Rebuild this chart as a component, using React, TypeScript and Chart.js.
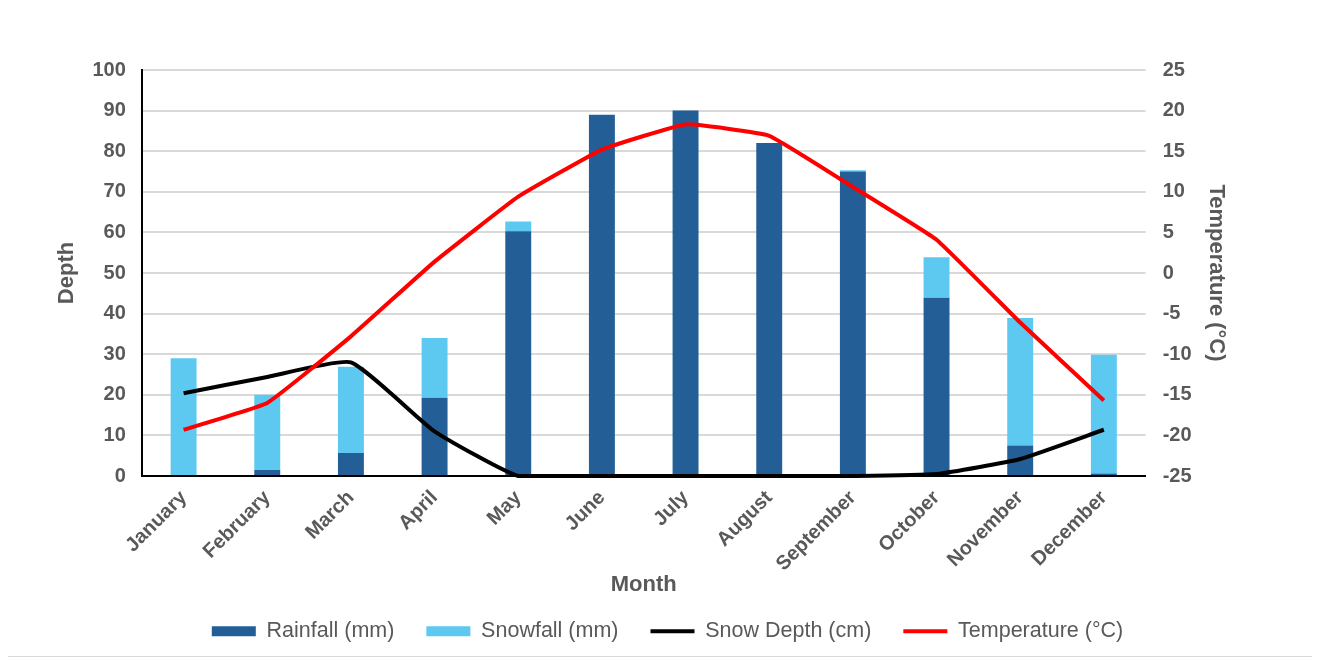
import React, { useEffect, useRef } from "react";
import { Chart, registerables } from "chart.js";

Chart.register(...registerables);

const months = [
  "January", "February", "March", "April", "May", "June",
  "July", "August", "September", "October", "November", "December",
];
const rainfall = [0, 1.5, 5.7, 19.3, 60.3, 89, 90, 82, 75, 43.9, 7.5, 0.6];
const snowfall = [29, 18.5, 21.2, 14.7, 2.4, 0, 0, 0, 0.3, 10, 31.4, 29.3];
const snowDepth = [20.4, 24.4, 28, 11, 0, 0, 0, 0, 0, 0.5, 4.2, 11.4];
const temperature = [-19.3, -16, -7.8, 1.4, 9.4, 15.2, 18.3, 16.9, 10.6, 4.1, -6.1, -15.7];

const depthTicks = { min: 0, max: 100, step: 10 };
const tempTicks = { min: -25, max: 25, step: 5 };

const FONT = "'Liberation Sans', Arial, sans-serif";
const TEXT = "#595959";
const GRID = "#d9d9d9";

export default function App() {
  const canvasRef = useRef<HTMLCanvasElement | null>(null);

  useEffect(() => {
    if (!canvasRef.current) return;
    const chart = new Chart(canvasRef.current, {
      type: "bar",
      data: {
        labels: months,
        datasets: [
          {
            type: "bar",
            label: "Rainfall (mm)",
            data: rainfall,
            backgroundColor: "#235f96",
            yAxisID: "y",
            stack: "precip",
            order: 2,
            barPercentage: 0.62,
            categoryPercentage: 0.5,
            pointStyle: "rect",
          },
          {
            type: "bar",
            label: "Snowfall (mm)",
            data: snowfall,
            backgroundColor: "#5dc9f1",
            yAxisID: "y",
            stack: "precip",
            order: 2,
            barPercentage: 0.62,
            categoryPercentage: 0.5,
            pointStyle: "rect",
          },
          {
            type: "line",
            label: "Snow Depth (cm)",
            data: snowDepth,
            borderColor: "#000000",
            backgroundColor: "#000000",
            borderWidth: 4,
            pointRadius: 0,
            tension: 0.15,
            yAxisID: "y",
            stack: "depth",
            order: 1,
            clip: 6,
            pointStyle: "line",
          },
          {
            type: "line",
            label: "Temperature (°C)",
            data: temperature,
            borderColor: "#ff0000",
            backgroundColor: "#ff0000",
            borderWidth: 4,
            pointRadius: 0,
            tension: 0.1,
            yAxisID: "y1",
            order: 0,
            clip: 6,
            pointStyle: "line",
          },
        ],
      },
      options: {
        animation: false,
        responsive: true,
        maintainAspectRatio: false,
        layout: { padding: { top: 64, left: 68, right: 56, bottom: 4 } },
        plugins: {
          tooltip: { enabled: false },
          legend: {
            position: "bottom",
            labels: {
              usePointStyle: true,
              pointStyleWidth: 44,
              boxHeight: 10,
              padding: 32,
              color: TEXT,
              font: { family: FONT, size: 21.5 },
              sort: (a: any, b: any) => a.datasetIndex - b.datasetIndex,
            },
          },
        },
        scales: {
          x: {
            stacked: true,
            grid: { display: false, drawTicks: false },
            border: { display: true, color: "#000000", width: 2 },
            ticks: {
              color: TEXT,
              font: { family: FONT, size: 20, weight: "bold" },
              minRotation: 45,
              maxRotation: 45,
              padding: 10,
            },
            title: {
              display: true,
              text: "Month",
              color: TEXT,
              font: { family: FONT, size: 22, weight: "bold" },
              padding: { top: -14, bottom: -10 },
            },
          },
          y: {
            position: "left",
            stacked: true,
            min: depthTicks.min,
            max: depthTicks.max,
            grid: { color: GRID, lineWidth: 2, drawTicks: false },
            border: { display: true, color: "#000000", width: 2 },
            ticks: {
              stepSize: depthTicks.step,
              color: TEXT,
              font: { family: FONT, size: 20, weight: "bold" },
              padding: 16,
            },
            title: {
              display: true,
              text: "Depth",
              color: TEXT,
              font: { family: FONT, size: 22, weight: "bold" },
              padding: { top: -22, bottom: -4 },
            },
          },
          y1: {
            position: "right",
            min: tempTicks.min,
            max: tempTicks.max,
            grid: { display: false, drawTicks: false },
            border: { display: false },
            ticks: {
              stepSize: tempTicks.step,
              color: TEXT,
              font: { family: FONT, size: 20, weight: "bold" },
              padding: 17,
            },
            title: {
              display: true,
              text: "Temperature (°C)",
              color: TEXT,
              font: { family: FONT, size: 22, weight: "bold" },
              padding: { top: 30, bottom: -6 },
            },
          },
        },
      },
    });
    return () => chart.destroy();
  }, []);

  return (
    <div
      style={{
        position: "relative",
        width: 1309,
        height: 652,
        marginLeft: -1,
        marginTop: -3,
        border: `1px solid ${GRID}`,
        boxSizing: "border-box",
        background: "#ffffff",
      }}
    >
      <canvas ref={canvasRef} />
    </div>
  );
}
